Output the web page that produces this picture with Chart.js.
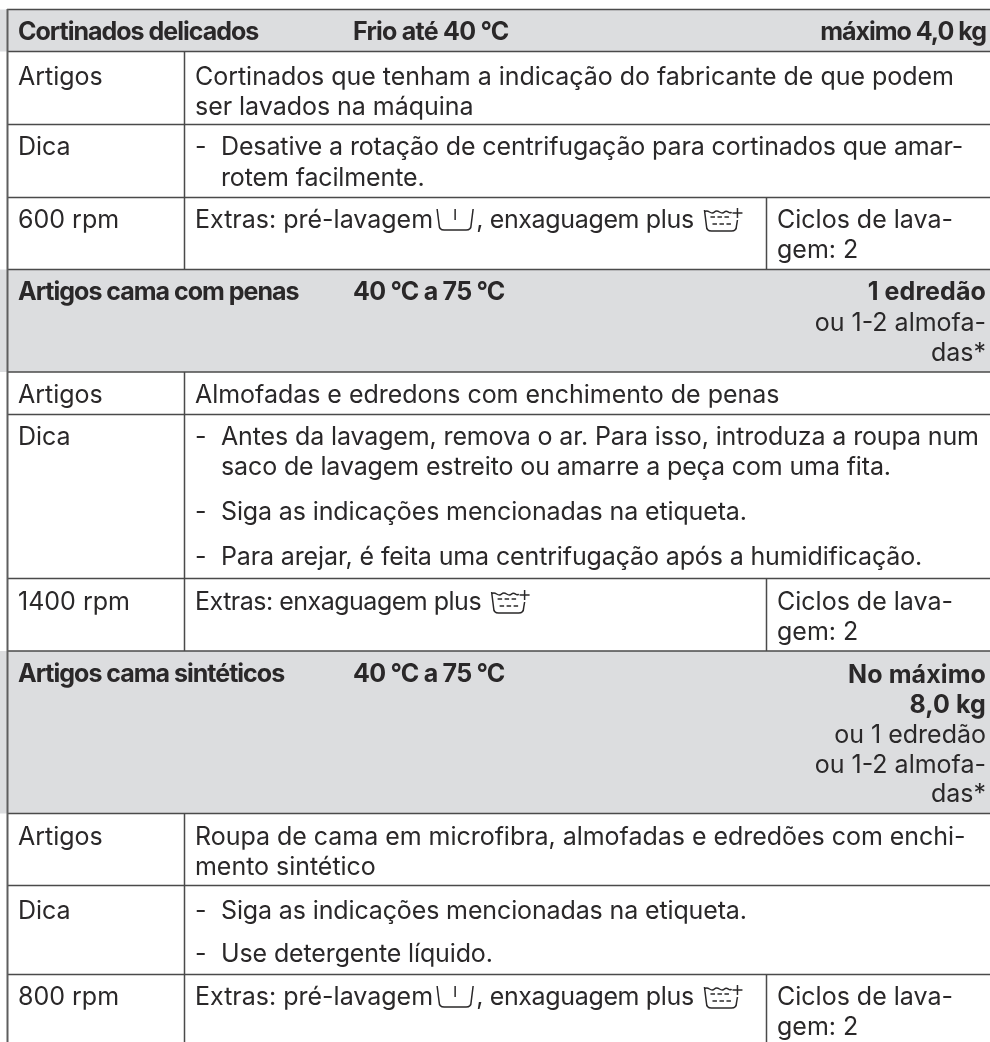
<!DOCTYPE html>
<html lang="pt">
<head>
<meta charset="utf-8">
<title>Cortinados e artigos de cama</title>
<script src="https://cdn.jsdelivr.net/npm/chart.js@4"></script>
<style>
  html, body { margin: 0; padding: 0; background: #fff; }
  #graphic { display: block; }
</style>
</head>
<body>
<canvas id="graphic" width="990" height="1042"></canvas>
<script>
// content
const programmes = ['Cortinados delicados', 'Artigos cama com penas', 'Artigos cama sintéticos'];
const temperatures = ['Frio até 40 °C', '40 °C a 75 °C', '40 °C a 75 °C'];
const loads = ['máximo 4,0 kg', '1 edredão', 'No máximo', '8,0 kg'];
const loadNotes = ['ou 1-2 almofa-', 'das*', 'ou 1 edredão', 'ou 1-2 almofa-', 'das*'];
const rowLabels = ['Artigos', 'Dica', '600 rpm', 'Artigos', 'Dica', '1400 rpm', 'Artigos', 'Dica', '800 rpm'];
const articleLines = [
  'Cortinados que tenham a indicação do fabricante de que podem',
  'ser lavados na máquina',
  'Almofadas e edredons com enchimento de penas',
  'Roupa de cama em microfibra, almofadas e edredões com enchi-',
  'mento sintético',
];
const tipLines = [
  'Desative a rotação de centrifugação para cortinados que amar-',
  'rotem facilmente.',
  'Antes da lavagem, remova o ar. Para isso, introduza a roupa num',
  'saco de lavagem estreito ou amarre a peça com uma fita.',
  'Siga as indicações mencionadas na etiqueta.',
  'Para arejar, é feita uma centrifugação após a humidificação.',
  'Siga as indicações mencionadas na etiqueta.',
  'Use detergente líquido.',
];
const extras = [
  ['Extras: pré-lavagem ', 'prewash', ', enxaguagem plus ', 'rinse'],
  ['Extras: enxaguagem plus ', 'rinse'],
  ['Extras: pré-lavagem ', 'prewash', ', enxaguagem plus ', 'rinse'],
];
const cycles = ['Ciclos de lava-', 'gem: 2'];

// layout, in page pixels
const bandEdges = [[9.5, 51.5], [269.5, 372], [651, 813.5]];
const rowEdges = [124.5, 197.5, 414.5, 578.5, 885.5, 974.5];
const labelRuns = [[51.5, 269.5], [372, 651], [813.5, 1042]];
const cycleRuns = [[197.5, 269.5], [578.5, 651], [974.5, 1042]];
const bandBase = [40, 300, 682];
const loadBase = [40, 300, 683, 713];
const noteBase = [331, 361, 743, 773, 802];
const labelBase = [85, 155, 228, 403, 445, 610, 845, 919, 1005];
const articleBase = [85, 115, 403, 845, 875];
const tipBase = [155, 186, 445, 475, 520, 565, 919, 962];
const extraBase = [228, 610, 1005];
const cycleBase = [[228, 258], [610, 640], [1005, 1035]];
const tipIsContinuation = [false, true, false, true, false, false, false, false];
const tokenSpacing = { ', enxaguagem plus ': '-0.35px', 'Extras: enxaguagem plus ': '-0.5px' };

const FONT_FAMILY = 'Inter, "Noto Sans", sans-serif';
const INK = '#2a2829';
const RULE = '#4a4a4a';
const BAND = '#dcdddf';
const REGULAR = { font: `400 25px ${FONT_FAMILY}`, spacing: '0px' };
const ARTICLE = { font: REGULAR.font, spacing: '-0.03px' };
const TIP = { font: REGULAR.font, spacing: '-0.13px' };
const BOLD = { font: `700 25px ${FONT_FAMILY}`, spacing: '-1px' };
const BOLD_TEMP = { font: BOLD.font, spacing: '-0.75px' };
const BOLD_LOAD = { font: BOLD.font, spacing: '0.1px' };

function rule(points, width = 1.5, color = RULE) {
  return {
    type: 'scatter',
    showLine: true,
    data: points.map(([x, y]) => ({ x, y })),
    borderColor: color,
    borderWidth: width,
    pointRadius: 0,
    fill: false,
  };
}

function band([top, bottom]) {
  return {
    type: 'line',
    data: [{ x: 0, y: top }, { x: 990, y: top }],
    borderWidth: 0,
    pointRadius: 0,
    backgroundColor: BAND,
    fill: { value: bottom },
  };
}

// chart.js paints the first dataset on top, so the bands go last
const datasets = [
  rule([[7.5, 9], [7.5, 1042]], 2, '#5e5e5e'),
  ...bandEdges.flat().map((y) => rule([[7, y], [990, y]])),
  ...rowEdges.map((y) => rule([[7, y], [990, y]])),
  ...labelRuns.map(([a, b]) => rule([[184.5, a], [184.5, b]])),
  ...cycleRuns.map(([a, b]) => rule([[766.5, a], [766.5, b]])),
  ...bandEdges.map(band),
];

const icons = {
  prewash: {
    width: 36,
    draw(ctx, x, y) {
      ctx.beginPath();
      ctx.moveTo(x - 3, y - 19);
      ctx.lineTo(x - 1, y - 3);
      ctx.quadraticCurveTo(x - 1, y + 2, x + 4, y + 2);
      ctx.lineTo(x + 26, y + 2);
      ctx.quadraticCurveTo(x + 31, y + 2, x + 31, y - 3);
      ctx.lineTo(x + 33, y - 19);
      ctx.moveTo(x + 15, y - 19);
      ctx.lineTo(x + 15, y - 8);
      ctx.stroke();
    },
  },
  rinse: {
    width: 46,
    draw(ctx, x, y) {
      ctx.beginPath();
      ctx.moveTo(x + 4, y - 18);
      ctx.lineTo(x + 6, y - 2);
      ctx.quadraticCurveTo(x + 6, y + 3, x + 11, y + 3);
      ctx.lineTo(x + 31, y + 3);
      ctx.quadraticCurveTo(x + 36, y + 3, x + 36, y - 2);
      ctx.lineTo(x + 37, y - 8);
      ctx.moveTo(x + 4, y - 16);
      ctx.bezierCurveTo(x + 8, y - 20, x + 10, y - 12, x + 14, y - 16);
      ctx.bezierCurveTo(x + 18, y - 20, x + 20, y - 12, x + 24, y - 16);
      ctx.bezierCurveTo(x + 27, y - 19, x + 29, y - 13, x + 31, y - 16);
      ctx.moveTo(x + 32, y - 15);
      ctx.lineTo(x + 42, y - 15);
      ctx.moveTo(x + 37, y - 20);
      ctx.lineTo(x + 37, y - 10);
      ctx.stroke();
      ctx.setLineDash([4.5, 2.5]);
      ctx.beginPath();
      ctx.moveTo(x + 10, y - 11);
      ctx.lineTo(x + 31, y - 11);
      ctx.moveTo(x + 12, y - 4);
      ctx.lineTo(x + 31, y - 4);
      ctx.stroke();
      ctx.setLineDash([]);
    },
  },
};

const tableText = {
  id: 'tableText',
  afterDatasetsDraw(chart) {
    const { ctx, scales: { x: xScale, y: yScale } } = chart;
    const put = (text, x, y, style, align = 'left') => {
      ctx.font = style.font;
      ctx.letterSpacing = style.spacing;
      ctx.textAlign = align;
      ctx.fillText(text, xScale.getPixelForValue(x), yScale.getPixelForValue(y));
    };
    ctx.save();
    ctx.fillStyle = INK;
    ctx.strokeStyle = INK;
    ctx.lineWidth = 1.5;
    ctx.textBaseline = 'alphabetic';

    programmes.forEach((t, i) => put(t, 18, bandBase[i], BOLD));
    temperatures.forEach((t, i) => put(t, 353, bandBase[i], BOLD_TEMP));
    loads.forEach((t, i) => put(t, 986, loadBase[i], i === 0 ? BOLD : BOLD_LOAD, 'right'));
    loadNotes.forEach((t, i) => put(t, 986, noteBase[i], REGULAR, 'right'));
    rowLabels.forEach((t, i) => put(t, 18, labelBase[i], REGULAR));
    articleLines.forEach((t, i) => put(t, 195, articleBase[i], ARTICLE));

    tipLines.forEach((t, i) => {
      if (!tipIsContinuation[i]) put('-', 195, tipBase[i], REGULAR);
      put(t, 221, tipBase[i], TIP);
    });

    extras.forEach((tokens, i) => {
      let x = 195;
      tokens.forEach((token) => {
        if (icons[token]) {
          icons[token].draw(ctx, xScale.getPixelForValue(x), yScale.getPixelForValue(extraBase[i]));
          x += icons[token].width;
        } else {
          put(token, x, extraBase[i], { font: REGULAR.font, spacing: tokenSpacing[token] || '0px' });
          x += ctx.measureText(token).width;
        }
      });
    });

    cycleBase.forEach((bases) => {
      cycles.forEach((t, i) => put(t, 777, bases[i], REGULAR));
    });
    ctx.restore();
  },
};

const graphic = new Chart(document.querySelector('#graphic').getContext('2d'), {
  type: 'scatter',
  data: { datasets },
  options: {
    responsive: false,
    animation: false,
    layout: { padding: 0 },
    plugins: { legend: { display: false }, tooltip: { enabled: false } },
    scales: {
      x: { type: 'linear', min: 0, max: 990, display: false },
      y: { type: 'linear', min: 0, max: 1042, reverse: true, display: false },
    },
  },
  plugins: [tableText],
});
</script>
</body>
</html>
